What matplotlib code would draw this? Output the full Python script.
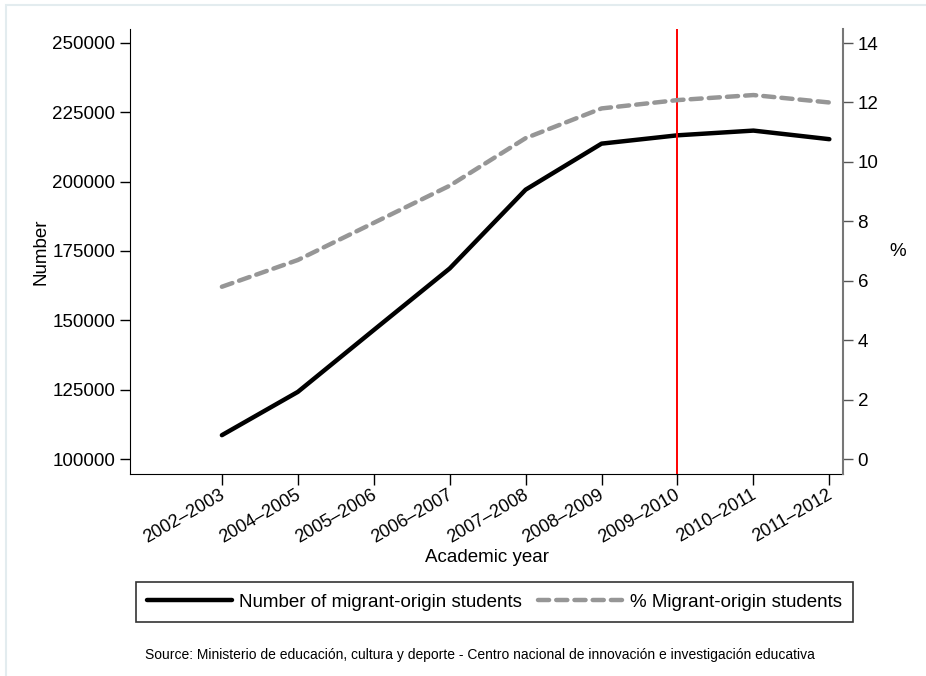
import numpy as np
import matplotlib.pyplot as plt
import matplotlib.transforms as mtransforms
from matplotlib.patches import Rectangle

plt.rcParams['font.family'] = ['Liberation Sans', 'DejaVu Sans']

years = ['2002\u20132003', '2004\u20132005', '2005\u20132006', '2006\u20132007',
         '2007\u20132008', '2008\u20132009', '2009\u20132010', '2010\u20132011',
         '2011\u20132012']
students = [108600, 124200, 146500, 168700, 197100, 213700, 216700, 218400, 215300]
percent = [5.8, 6.7, 7.95, 9.2, 10.8, 11.8, 12.08, 12.25, 12.0]
num_ticks = [100000, 125000, 150000, 175000, 200000, 225000, 250000]
pct_ticks = [0, 2, 4, 6, 8, 10, 12, 14]

x = np.arange(len(years))
fs = 13.5

fig = plt.figure(figsize=(9.26, 6.76), dpi=100)
fig.patches.append(Rectangle((0.006, -0.01), 1.2, 1.003, transform=fig.transFigure,
                             fill=False, edgecolor='#e3ecef', linewidth=1.5))
ax = fig.add_axes([0.1404, 0.2988, 0.77, 0.6582])
ax2 = ax.twinx()

l1, = ax.plot(x, students, color='black', lw=3.2, solid_capstyle='round',
              label='Number of migrant-origin students')
l2, = ax2.plot(x, percent, color='#969696', lw=3.2, dashes=(2.5, 1.6),
               dash_capstyle='round', label='% Migrant-origin students')
ax.axvline(6, color='red', lw=1.4)

ax.set_xlim(-1.21, 8.18)
ax.set_ylim(94600, 255000)
ax2.set_ylim(-0.5, 14.47)
ax.set_yticks(num_ticks)
ax.set_yticklabels([str(v) for v in num_ticks])
ax2.set_yticks(pct_ticks)
ax.set_xticks(x)
ax.set_xticklabels(years, rotation=30, ha='right', va='top',
                   rotation_mode='anchor')

for a in (ax, ax2):
    a.spines['top'].set_visible(False)
    a.tick_params(labelsize=fs, length=7, width=1, direction='out')
ax.tick_params(axis='x', length=8, pad=0, labelsize=13)
ax.spines['right'].set_visible(False)
ax2.spines['left'].set_visible(False)
ax2.spines['bottom'].set_visible(False)
ax2.spines['right'].set_color('#777777')
ax2.spines['right'].set_linewidth(1.5)
ax2.tick_params(color='#555555')

# nudge rotated labels so they start just below-left of each tick
shift = mtransforms.ScaledTranslation(-3 / 100, -1 / 100, fig.dpi_scale_trans)
for lab in ax.get_xticklabels():
    lab.set_transform(lab.get_transform() + shift)

ax.set_ylabel('Number', fontsize=fs, labelpad=2)
ax2.set_ylabel('%', fontsize=fs, rotation=0, labelpad=14, va='center')
ax.set_xlabel('Academic year', fontsize=fs, labelpad=2)

leg = fig.legend(handles=[l1, l2], loc='center', ncol=2,
                 bbox_to_anchor=(0.534, 0.1095), fontsize=fs,
                 frameon=True, fancybox=False, edgecolor='black',
                 handlelength=4.5, columnspacing=0.85, borderpad=0.6,
                 handletextpad=0.4, borderaxespad=0)
leg.get_frame().set_linewidth(1.2)

fig.text(0.5185, 0.031, 'Source: Ministerio de educación, cultura y deporte - Centro nacional de innovación e investigación educativa',
         ha='center', va='center', fontsize=10)

fig.savefig('out.png', dpi=100)
